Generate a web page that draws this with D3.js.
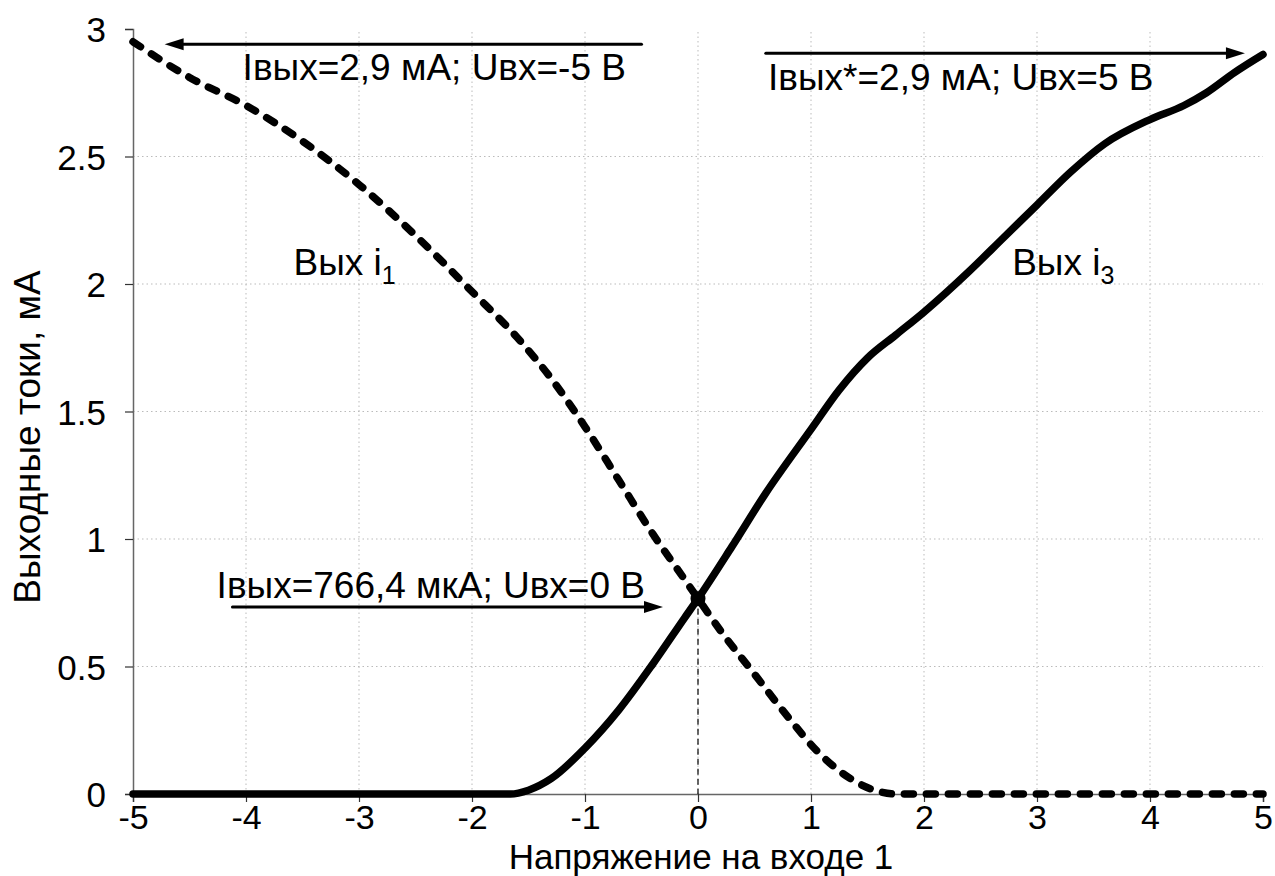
<!DOCTYPE html>
<html lang="ru">
<head>
<meta charset="UTF-8">
<title>Выходные токи</title>
<script src="https://d3js.org/d3.v7.min.js"></script>
<style>
    body { margin: 0; background: #fff; }
    text { font-family: "Liberation Sans", Arial, sans-serif; fill: #000; }
</style>
</head>
<body>
<div id="chart"></div>
<script>
    // i1 (пунктир) и i3 (сплошная)
    const i1U = [-5, -4.5, -4, -3.5, -3, -2.5, -2, -1.6, -1.3, -1, -0.7, -0.4, -0.1, 0, 0.2, 0.5, 0.8, 1.05, 1.35, 1.6, 1.75, 2, 3, 4, 5]
    const i1I = [2.95, 2.81, 2.70, 2.56, 2.39, 2.19, 1.97, 1.79, 1.63, 1.44, 1.23, 1.02, 0.83, 0.766, 0.64, 0.47, 0.30, 0.17, 0.06, 0.01, 0, 0, 0, 0, 0]

    const i3U = [-5, -4, -3, -2, -1.66, -1.5, -1.3, -1, -0.7, -0.4, -0.12, 0, 0.3, 0.6, 1, 1.25, 1.5, 1.75, 2, 2.4, 2.7, 3, 3.3, 3.6, 4, 4.3, 4.5, 4.75, 5]
    const i3I = [0, 0, 0, 0, 0, 0.015, 0.06, 0.18, 0.33, 0.51, 0.69, 0.766, 0.97, 1.18, 1.43, 1.585, 1.71, 1.80, 1.89, 2.05, 2.18, 2.31, 2.44, 2.55, 2.645, 2.70, 2.75, 2.83, 2.90]

    const xTicks = [-5, -4, -3, -2, -1, 0, 1, 2, 3, 4, 5]
    const yTicks = [0, 0.5, 1, 1.5, 2, 2.5, 3]

    const crossU = 0
    const crossI = 0.766

    // стрелки: [от U, до U, I]
    const arrows = [[-0.5, -4.72, 2.94], [0.6, 4.84, 2.905], [-4.12, -0.31, 0.733]]
    const notes = [
        { u: -4.03, i: 2.80, t: 'Iвых=2,9 мА; Uвх=-5 В' },
        { u: 0.62, i: 2.76, t: 'Iвых*=2,9 мА; Uвх=5 В' },
        { u: -4.26, i: 0.77, t: 'Iвых=766,4 мкА; Uвх=0 В' }
    ]
    const curveLabels = [
        { u: -3.58, i: 2.035, sub: '1' },
        { u: 2.78, i: 2.035, sub: '3' }
    ]

    const W = 1275, H = 876
    const svg = d3.select('#chart').append('svg')
        .attr('width', W)
        .attr('height', H)

    const x = d3.scaleLinear().domain([-5, 5]).range([133, 1263])
    const y = d3.scaleLinear().domain([0, 3]).range([794, 29])

    // сетка
    svg.append('g').selectAll('line')
        .data(xTicks.slice(1, -1))
        .enter().append('line')
        .attr('x1', d => x(d)).attr('x2', d => x(d))
        .attr('y1', y(0)).attr('y2', y(3))
        .attr('stroke', '#bbb')
        .attr('stroke-dasharray', '1.5,3')
    svg.append('g').selectAll('line')
        .data(yTicks.slice(1, -1))
        .enter().append('line')
        .attr('x1', x(-5)).attr('x2', x(5))
        .attr('y1', d => y(d)).attr('y2', d => y(d))
        .attr('stroke', '#bbb')
        .attr('stroke-dasharray', '1.5,3')

    // оси
    const xAxis = d3.axisBottom(x).tickValues(xTicks).tickSize(8).tickPadding(3).tickFormat(d => String(d))
    const yAxis = d3.axisLeft(y).tickValues(yTicks).tickSize(8).tickPadding(19).tickFormat(d => String(d))

    const gx = svg.append('g')
        .attr('transform', `translate(0,${y(0)})`)
        .call(xAxis)
    const gy = svg.append('g')
        .attr('transform', `translate(${x(-5)},0)`)
        .call(yAxis)

    for (const g of [gx, gy]) {
        g.select('.domain').attr('stroke', '#666').attr('stroke-width', 1.5)
        g.selectAll('.tick line').attr('stroke', '#333').attr('stroke-width', 1.2)
        g.selectAll('.tick text')
            .attr('fill', '#000')
            .style('font-size', '35px')
            .style('font-family', '"Liberation Sans", Arial, sans-serif')
    }
    gx.selectAll('.tick text').style('font-size', '34px')
    gy.selectAll('.tick text').attr('dy', '0.36em')

    svg.append('text')
        .attr('x', x(0) + 3)
        .attr('y', 868.5)
        .attr('text-anchor', 'middle')
        .style('font-size', '35px')
        .text('Напряжение на входе 1')

    svg.append('text')
        .attr('transform', `translate(40,${y(1.4)}) rotate(-90)`)
        .attr('text-anchor', 'middle')
        .style('font-size', '37px')
        .text('Выходные токи, мА')

    // пунктир от точки к оси
    svg.append('line')
        .attr('x1', x(crossU)).attr('x2', x(crossU))
        .attr('y1', y(crossI)).attr('y2', y(0))
        .attr('stroke', '#000')
        .attr('stroke-width', 1.2)
        .attr('stroke-dasharray', '6,4')

    const line = d3.line()
        .x(d => x(d[0]))
        .y(d => y(d[1]))
        .curve(d3.curveMonotoneX)

    svg.append('path')
        .datum(i3U.map((u, k) => [u, i3I[k]]))
        .attr('d', line)
        .attr('fill', 'none')
        .attr('stroke', '#000')
        .attr('stroke-width', 7.5)
        .attr('stroke-linecap', 'round')
        .attr('stroke-linejoin', 'round')

    svg.append('path')
        .datum(i1U.map((u, k) => [u, i1I[k]]))
        .attr('d', line)
        .attr('fill', 'none')
        .attr('stroke', '#000')
        .attr('stroke-width', 7.5)
        .attr('stroke-linecap', 'round')
        .attr('stroke-dasharray', '9,13')

    svg.append('circle')
        .attr('cx', x(crossU))
        .attr('cy', y(crossI))
        .attr('r', 7.5)
        .attr('fill', '#000')

    // стрелки
    const ag = svg.append('g')
    arrows.forEach(a => {
        const x0 = x(a[0]), x1 = x(a[1]), yy = y(a[2])
        const dir = x1 > x0 ? 1 : -1
        ag.append('line')
            .attr('x1', x0).attr('x2', x1 - dir * 14)
            .attr('y1', yy).attr('y2', yy)
            .attr('stroke', '#000')
            .attr('stroke-width', 3)
            .attr('stroke-linecap', 'round')
        ag.append('path')
            .attr('d', `M${x1},${yy}L${x1 - dir * 19},${yy - 6}L${x1 - dir * 19},${yy + 6}Z`)
            .attr('fill', '#000')
    })

    svg.append('g').selectAll('text')
        .data(notes)
        .enter().append('text')
        .attr('x', d => x(d.u))
        .attr('y', d => y(d.i))
        .style('font-size', '37px')
        .text(d => d.t)

    const cl = svg.append('g').selectAll('text')
        .data(curveLabels)
        .enter().append('text')
        .attr('x', d => x(d.u))
        .attr('y', d => y(d.i))
        .style('font-size', '37px')
    cl.append('tspan').text('Вых i')
    cl.append('tspan')
        .attr('dy', 9)
        .style('font-size', '25px')
        .text(d => d.sub)
</script>
</body>
</html>
